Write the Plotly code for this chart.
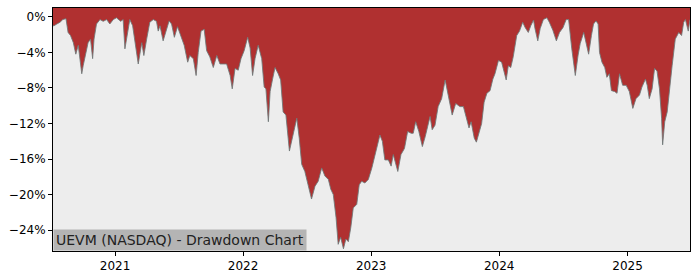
import plotly.graph_objects as go

dates = [
    "2020-07-08", "2020-07-11", "2020-07-19", "2020-07-28", "2020-08-05", "2020-08-14", "2020-08-20",
    "2020-08-27", "2020-09-04", "2020-09-11", "2020-09-18", "2020-09-28", "2020-10-02", "2020-10-10",
    "2020-10-16", "2020-10-23", "2020-10-29", "2020-11-02", "2020-11-09", "2020-11-19", "2020-11-28",
    "2020-12-08", "2020-12-17", "2020-12-27",
    "2021-01-05", "2021-01-17", "2021-01-24", "2021-01-29", "2021-02-05", "2021-02-12", "2021-02-20",
    "2021-02-27", "2021-03-08", "2021-03-18", "2021-03-24", "2021-04-01", "2021-04-10", "2021-04-20",
    "2021-04-29", "2021-05-04", "2021-05-09", "2021-05-18", "2021-05-28", "2021-06-04", "2021-06-11",
    "2021-06-19", "2021-06-28", "2021-07-08", "2021-07-17", "2021-07-27", "2021-08-02", "2021-08-12",
    "2021-08-20", "2021-08-26", "2021-09-03", "2021-09-12", "2021-09-19", "2021-09-28", "2021-10-08",
    "2021-10-18", "2021-10-27", "2021-11-05", "2021-11-15", "2021-11-25", "2021-12-01", "2021-12-09",
    "2021-12-18", "2021-12-26",
    "2022-01-04", "2022-01-14", "2022-01-21", "2022-01-28", "2022-02-04", "2022-02-13", "2022-02-23",
    "2022-03-02", "2022-03-07", "2022-03-14", "2022-03-19", "2022-03-26", "2022-04-02", "2022-04-11",
    "2022-04-18", "2022-04-25", "2022-05-03", "2022-05-13", "2022-05-22", "2022-06-03", "2022-06-10",
    "2022-06-17", "2022-06-26", "2022-07-06", "2022-07-15", "2022-07-25", "2022-08-03", "2022-08-13",
    "2022-08-22", "2022-09-01", "2022-09-08", "2022-09-15", "2022-09-23", "2022-09-29", "2022-10-06",
    "2022-10-14", "2022-10-21", "2022-10-28", "2022-11-04", "2022-11-11", "2022-11-21", "2022-11-28",
    "2022-12-05", "2022-12-14", "2022-12-24",
    "2023-01-03", "2023-01-12", "2023-01-20", "2023-01-26", "2023-02-02", "2023-02-09", "2023-02-19",
    "2023-02-27", "2023-03-05", "2023-03-12", "2023-03-18", "2023-03-27", "2023-04-06", "2023-04-15",
    "2023-04-25", "2023-05-01", "2023-05-08", "2023-05-17", "2023-05-27", "2023-06-04", "2023-06-11",
    "2023-06-18", "2023-06-24", "2023-07-02", "2023-07-11", "2023-07-21", "2023-07-31", "2023-08-07",
    "2023-08-20", "2023-08-30", "2023-09-11", "2023-09-21", "2023-09-28", "2023-10-07", "2023-10-13",
    "2023-10-22", "2023-10-28", "2023-11-07", "2023-11-12", "2023-11-19", "2023-11-27", "2023-12-06",
    "2023-12-14", "2023-12-20", "2023-12-30",
    "2024-01-08", "2024-01-13", "2024-01-21", "2024-01-27", "2024-02-03", "2024-02-10", "2024-02-20",
    "2024-02-28", "2024-03-08", "2024-03-15", "2024-03-24", "2024-03-31", "2024-04-08", "2024-04-12",
    "2024-04-20", "2024-04-27", "2024-05-06", "2024-05-16", "2024-05-23", "2024-06-02", "2024-06-12",
    "2024-06-21", "2024-07-01", "2024-07-10", "2024-07-17", "2024-07-26", "2024-08-05", "2024-08-13",
    "2024-08-19", "2024-08-29", "2024-09-04", "2024-09-12", "2024-09-20", "2024-09-26", "2024-10-03",
    "2024-10-09", "2024-10-13", "2024-10-20", "2024-10-28", "2024-11-03", "2024-11-10", "2024-11-16",
    "2024-11-25", "2024-12-02", "2024-12-09", "2024-12-18", "2024-12-28",
    "2025-01-06", "2025-01-16", "2025-01-25", "2025-02-04", "2025-02-11", "2025-02-21", "2025-02-26",
    "2025-03-04", "2025-03-12", "2025-03-19", "2025-03-26", "2025-04-02", "2025-04-08", "2025-04-11",
    "2025-04-17", "2025-04-24", "2025-04-30", "2025-05-08", "2025-05-17", "2025-05-27", "2025-06-04",
    "2025-06-10", "2025-06-15", "2025-06-23", "2025-06-28",
]

drawdown_pct = [
    -1.0, -1.0, -0.8, -0.6, -0.3, -0.2, -1.75,
    -2.1, -2.9, -4.2, -3.2, -6.4, -5.5, -4.0,
    -2.9, -2.5, -4.7, -2.5, -0.8, -0.3, -0.5,
    -0.3, -0.8, -0.3,
    -0.1, -0.5, -0.3, -3.6, -1.75, -0.3, -1.0,
    -2.9, -5.3, -2.9, -4.35, -2.5, -0.6, -0.3,
    -0.5, -1.6, -1.0, -2.7, -1.4, -0.45, -0.8,
    -2.3, -1.1, -2.3, -3.2, -5.1, -4.35, -4.7,
    -6.6, -4.0, -1.6, -1.4, -3.8, -4.5, -5.7,
    -4.35, -5.3, -5.3, -5.3, -6.6, -8.1, -5.8,
    -6.0, -4.7,
    -3.8, -2.3, -3.5, -6.6, -4.7, -3.2, -4.7,
    -7.9, -8.1, -11.8, -8.4, -7.0, -5.7, -6.4,
    -7.1, -10.7, -11.05, -15.1, -13.65, -11.4, -13.65,
    -16.6, -17.4, -18.9, -20.5, -19.05, -18.5, -17.0,
    -17.9, -18.3, -19.4, -20.0, -22.6, -25.6, -24.8,
    -26.1, -25.0, -25.3, -23.7, -21.5, -21.1, -18.9,
    -18.5, -18.7, -18.3,
    -17.0, -15.5, -14.4, -13.3, -14.0, -16.1, -16.1,
    -16.8, -15.5, -16.6, -17.4, -15.5, -14.8, -12.9,
    -13.1, -13.1, -11.8, -12.9, -14.6, -13.5, -12.2,
    -11.2, -12.7, -12.2, -10.1, -9.2, -7.1, -8.6,
    -11.05, -9.75, -10.1, -10.1, -11.2, -12.5, -11.8,
    -13.65, -14.1, -12.5, -12.0, -9.6, -8.6, -8.3,
    -7.0, -6.4, -4.9,
    -5.1, -6.0, -7.1, -5.5, -5.7, -4.5, -2.1,
    -1.6, -0.6, -1.2, -1.75, -1.0, -0.35, -1.3,
    -2.7, -1.3, -0.3, -0.1, -0.6, -1.5, -2.7,
    -1.75, -1.2, -0.3, -0.3, -3.6, -6.6, -4.3,
    -3.0, -1.75, -2.7, -4.2, -2.1, -0.8, -0.45,
    -0.8, -4.0, -5.1, -5.7, -6.8, -6.4, -8.3,
    -8.4, -8.6, -6.4, -7.7, -7.7,
    -8.4, -10.3, -9.2, -8.8, -7.9, -7.0, -7.7,
    -9.2, -8.1, -5.8, -6.1, -8.1, -11.4, -14.4,
    -11.8, -10.7, -8.1, -5.5, -2.5, -1.75, -2.1,
    -0.6, -0.3, -1.6, -0.3,
]

y_ticks = [0, -4, -8, -12, -16, -20, -24]
y_tick_labels = ["0%", "−4%", "−8%", "−12%", "−16%", "−20%", "−24%"]
x_ticks = ["2021-01-01", "2022-01-01", "2023-01-01", "2024-01-01", "2025-01-01"]
x_tick_labels = ["2021", "2022", "2023", "2024", "2025"]
title_text = "UEVM (NASDAQ) - Drawdown Chart"

y_top = 1.0
y_bottom = -26.35

fig = go.Figure()
fig.add_trace(go.Scatter(
    x=dates, y=[y_top] * len(dates), mode="lines",
    line=dict(width=0, color="rgba(0,0,0,0)"), showlegend=False, hoverinfo="skip",
))
fig.add_trace(go.Scatter(
    x=dates, y=drawdown_pct, mode="lines", fill="tonexty",
    fillcolor="#b03030", line=dict(width=1, color="rgba(110,120,120,0.85)"),
    showlegend=False,
))

fig.update_layout(
    width=700, height=280,
    margin=dict(l=53, r=10, t=7, b=28),
    paper_bgcolor="white",
    plot_bgcolor="#ededed",
    font=dict(family="DejaVu Sans", size=12, color="#000000"),
    xaxis=dict(
        range=[dates[0], dates[-1]],
        tickvals=x_ticks, ticktext=x_tick_labels,
        ticks="outside", ticklen=4, tickwidth=1, tickcolor="black",
        showgrid=False, zeroline=False,
        showline=True, linecolor="black", linewidth=1, mirror=True,
    ),
    yaxis=dict(
        range=[y_bottom, y_top],
        tickvals=y_ticks, ticktext=y_tick_labels,
        ticks="outside", ticklen=4, tickwidth=1, tickcolor="black",
        showgrid=False, zeroline=False,
        showline=True, linecolor="black", linewidth=1, mirror=True,
    ),
    annotations=[dict(
        text=title_text, xref="paper", yref="paper", x=0, y=0,
        xanchor="left", yanchor="bottom", showarrow=False,
        font=dict(family="DejaVu Sans", size=14, color="#222222"),
        bgcolor="#b4b4b4", borderpad=2,
    )],
)

fig.write_html("out.html")
